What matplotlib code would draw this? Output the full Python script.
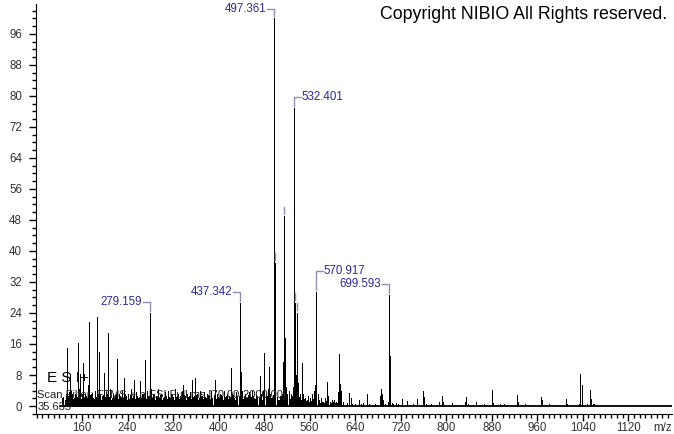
import matplotlib
matplotlib.use("Agg")
import matplotlib.pyplot as plt
from matplotlib.ticker import MultipleLocator

plt.rcParams['font.family'] = ['Liberation Sans', 'DejaVu Sans']

# Peaks (m/z, relative intensity)
peak_mz = [124, 127, 131, 133, 135, 138, 140, 143, 146, 149, 152, 154, 156, 159,
           162, 165, 168, 170, 173, 176, 179, 182, 186, 189, 192, 195, 199, 202,
           206, 209, 212, 215, 218, 222, 225, 228, 231, 234, 237, 240, 243, 246,
           249, 252, 255, 258, 262, 265, 268, 271, 274, 277, 279.159, 281, 284,
           287, 290, 293, 296, 299, 302, 305, 308, 311, 314, 317, 320, 323, 326,
           329, 332, 335, 338, 341, 344, 347, 350, 353, 356, 359, 362, 365, 368,
           371, 374, 377, 380, 383, 386, 389, 394, 397, 400, 403, 406, 409, 412,
           415, 418, 421, 424, 427, 430, 433, 437.342, 439, 441, 444, 447, 450,
           453, 456, 459, 462, 465, 468, 472, 475, 478, 480.5, 483, 486, 488,
           491, 494, 497.361, 498.4, 500, 502, 505, 508, 511, 514, 515.7, 517,
           519, 521, 524, 527, 530, 532.401, 534.5, 536, 538.5, 540, 543, 546,
           549, 552, 555, 558, 561, 564, 567, 569, 570.917, 572, 574, 577, 580,
           584, 587, 590, 592, 595, 599, 603, 606, 609, 611, 612.5, 614, 616,
           619, 625, 630, 632, 635, 640, 646, 650, 653, 660, 664, 675, 683, 685,
           687, 689, 692, 697, 699.593, 700.6, 702, 704, 707, 711, 715, 723, 732,
           742, 749, 759, 761, 764, 773, 787, 793, 795, 810, 833, 835, 838, 852,
           866, 880.5, 882, 894, 901, 924, 926, 938, 966, 968, 980, 1010.5, 1013,
           1034, 1036, 1038, 1047.5, 1052, 1054, 1058, 1060]
peak_int = [1.5, 2.2, 3.0, 15.0, 2.5, 8.3, 4.0, 3.0, 2.0, 2.8, 16.3, 4.5, 8.3, 2.5,
            11.2, 3.0, 2.0, 5.5, 21.8, 3.2, 2.0, 4.0, 23.0, 14.0, 3.0, 2.5, 8.5, 3.5,
            18.8, 4.5, 2.0, 3.0, 2.5, 12.0, 3.0, 2.0, 4.0, 7.2, 2.5, 3.0, 1.8, 4.5,
            2.5, 6.7, 3.5, 2.0, 6.5, 3.0, 2.2, 11.9, 4.0, 2.5, 24.0, 4.5, 2.0,
            3.0, 2.5, 4.5, 1.8, 3.0, 2.0, 3.5, 2.5, 4.0, 2.0, 3.0, 2.2, 4.5, 2.0,
            3.0, 2.5, 4.0, 5.4, 2.5, 3.0, 2.0, 3.5, 6.7, 2.5, 7.1, 3.0, 2.0, 4.0,
            2.5, 3.5, 2.0, 3.0, 2.5, 4.0, 2.0, 6.7, 3.0, 2.0, 3.0, 2.5, 4.0, 2.0,
            3.0, 2.5, 9.7, 3.0, 2.0, 3.5, 2.5, 26.6, 8.9, 4.0, 2.5, 3.0, 2.0,
            3.5, 2.5, 4.0, 2.0, 3.0, 2.5, 7.7, 3.0, 4.0, 13.8, 3.0, 4.5, 10.1,
            3.0, 2.0, 100.0, 37.0, 4.0, 2.0, 1.5, 2.5, 3.0, 11.4, 49.0, 17.5,
            5.0, 3.0, 4.0, 3.0, 5.0, 76.9, 26.7, 8.0, 24.1, 6.0, 3.0, 11.0,
            3.0, 2.0, 1.5, 2.5, 2.0, 3.0, 4.0, 5.5, 29.5, 5.0, 3.0, 1.5, 2.0,
            1.0, 2.0, 6.3, 2.5, 1.0, 1.5, 1.5, 1.0, 3.5, 4.6, 13.4, 5.7, 4.0,
            1.0, 0.8, 3.3, 2.0, 0.6, 0.5, 1.5, 0.6, 0.8, 3.0, 0.6, 0.6, 2.6, 4.3,
            3.2, 1.5, 0.6, 1.0, 28.6, 12.9, 2.6, 0.8, 0.6, 0.9, 0.6, 1.9, 1.2,
            0.6, 1.9, 3.9, 2.4, 0.6, 0.4, 1.0, 2.5, 1.0, 0.7, 1.0, 2.2, 0.6, 1.0,
            0.4, 4.1, 0.8, 0.4, 0.4, 2.8, 1.0, 0.4, 2.3, 1.5, 0.6, 1.8, 0.6,
            0.6, 8.2, 5.3, 0.6, 4.2, 1.8, 0.6, 0.6]

# low-level noise between the main peaks
noise_mz = [125.5, 129.5, 136.5, 141.5, 144.5, 147.5, 150.5, 157.5, 160.5, 163.5,
            166.5, 171.5, 174.5, 177.5, 180.5, 184.5, 187.5, 190.5, 193.5, 197.5,
            200.5, 204.5, 207.5, 210.5, 213.5, 216.5, 219.5, 223.5, 226.5, 229.5,
            232.5, 235.5, 238.5, 241.5, 244.5, 247.5, 250.5, 253.5, 256.5, 260.5,
            263.5, 266.5, 269.5, 272.5, 275.5, 282.5, 285.5, 288.5, 291.5, 294.5,
            297.5, 300.5, 303.5, 306.5, 309.5, 312.5, 315.5, 318.5, 321.5, 324.5,
            327.5, 330.5, 333.5, 336.5, 339.5, 342.5, 345.5, 348.5, 351.5, 354.5,
            357.5, 360.5, 363.5, 366.5, 369.5, 372.5, 375.5, 378.5, 381.5, 384.5,
            387.5, 391.5, 395.5, 398.5, 401.5, 404.5, 407.5, 410.5, 413.5, 416.5,
            419.5, 422.5, 425.5, 428.5, 431.5, 435.5, 442.5, 445.5, 448.5, 451.5,
            454.5, 457.5, 460.5, 463.5, 466.5, 470.5, 473.5, 476.5, 479.5, 484.5,
            487.5, 490.5, 492.5, 495.5, 503.5, 506.5, 509.5, 512.5, 520.5, 523.5,
            525.5, 528.5, 541.5, 544.5, 547.5, 550.5, 553.5, 556.5, 559.5, 562.5,
            565.5, 575.5, 578.5, 582.5, 585.5, 588.5, 597.5, 601.5, 604.5, 607.5]
noise_int = [2.0, 1.5, 3.5, 2.5, 1.8, 3.0, 2.2, 1.8, 3.2, 2.0,
             2.6, 1.5, 2.8, 3.4, 1.8, 2.4, 3.0, 2.0, 1.6, 2.8,
             2.2, 3.0, 2.4, 1.6, 2.6, 2.0, 3.2, 1.8, 2.4, 2.8,
             2.0, 3.0, 1.6, 2.2, 2.8, 2.0, 3.2, 1.8, 2.6, 2.2,
             2.0, 3.0, 2.4, 1.8, 2.6, 2.0, 3.0, 1.6, 2.4, 2.0,
             2.8, 1.6, 2.2, 2.6, 1.8, 2.4, 2.0, 3.0, 1.6, 2.2,
             2.6, 1.8, 2.4, 2.0, 2.8, 1.6, 2.2, 2.6, 1.8, 2.4,
             2.0, 2.8, 1.6, 2.2, 2.6, 1.8, 2.4, 2.0, 2.8, 1.6,
             2.2, 2.6, 1.8, 2.4, 2.0, 2.8, 1.6, 2.2, 2.6, 1.8,
             2.4, 2.0, 2.8, 1.6, 2.2, 2.6, 1.8, 2.4, 2.0, 2.8,
             1.6, 2.2, 2.6, 1.8, 2.4, 2.0, 2.8, 1.6, 2.2, 2.6,
             1.8, 2.4, 2.0, 2.8, 2.2, 1.6, 2.6, 2.0, 2.8, 2.4,
             1.8, 2.6, 2.2, 1.6, 2.4, 1.8, 1.2, 1.6, 1.0, 1.4,
             1.8, 1.2, 0.8, 1.0, 0.7, 1.4, 0.8, 1.0, 0.7, 0.9]

# Labelled peaks
label_mz = [279.159, 437.342, 497.361, 532.401, 570.917, 699.593]
label_h = [24.0, 26.6, 100.0, 76.9, 29.5, 28.6]
label_side = ['left', 'left', 'left', 'right', 'right', 'left']
label_rise = [2.8, 2.8, 2.4, 2.8, 5.2, 3.0]

# peaks with hidden labels (only a short tick is drawn)
tick_mz = [498.4, 515.7, 534.5, 538.5]
tick_h = [37.0, 49.0, 26.7, 24.1]

fig = plt.figure(figsize=(6.74, 4.34), dpi=100)
ax = fig.add_axes([36 / 674, 1 - 414 / 434, 636 / 674, 410 / 434])

ax.text(81, 2.9, "Scan Filter: FTMS + p ESI Full ms [70.00-2000.00]",
        fontsize=8, color='#222222', va='center', ha='left', zorder=5)
ax.text(81, -0.2, "35.635", fontsize=8, color='#222222', va='center', ha='left', zorder=5)
ax.text(98, 7.3, "E S I+", fontsize=11, color='black', va='center', ha='left', zorder=5)

ax.vlines(noise_mz, 0, noise_int, color='black', linewidth=0.55, antialiased=False, zorder=3)
ax.vlines(peak_mz, 0, peak_int, color='black', linewidth=0.55, antialiased=False, zorder=3)
ax.plot([min(peak_mz) - 3, 1197], [0, 0], color='black', linewidth=1.3, zorder=3)

lab_color = '#2b2ba3'
br_color = '#8f8fb0'
for mz, h, side, rise in zip(label_mz, label_h, label_side, label_rise):
    top = h + rise
    sgn = -1 if side == 'left' else 1
    ax.plot([mz, mz, mz + sgn * 12], [h + 0.5, top, top], color=br_color, linewidth=1, zorder=4)
    ax.text(mz + sgn * 14, top, f"{mz:.3f}", color=lab_color, fontsize=8.3,
            ha='right' if side == 'left' else 'left', va='center', zorder=4)

for mz, h in zip(tick_mz, tick_h):
    ax.plot([mz, mz], [h + 0.6, h + 2.4], color=br_color, linewidth=1, zorder=4)

ax.text(0.993, 0.975, "Copyright NIBIO All Rights reserved.", transform=ax.transAxes,
        fontsize=12.8, ha='right', va='center', color='black')
ax.text(1.0, -0.034, "m/z", transform=ax.transAxes, fontsize=8.3, color='#333333',
        ha='right', va='center')

ax.set_xlim(79, 1197)
ax.set_ylim(-2.06, 103.7)
ax.spines['top'].set_visible(False)
ax.spines['right'].set_visible(False)
ax.xaxis.set_minor_locator(MultipleLocator(10))
ax.yaxis.set_minor_locator(MultipleLocator(2))
ax.set_xticks([t for t in range(160, 1121, 80)])
ax.set_yticks([t for t in range(0, 97, 8)])
ax.tick_params(axis='both', which='major', labelsize=8.3, labelcolor='#333333',
               length=5, width=1)
ax.tick_params(axis='both', which='minor', length=3, width=1)
ax.tick_params(axis='y', pad=5)
ax.tick_params(axis='x', pad=1)

fig.savefig("out.png", dpi=100)
